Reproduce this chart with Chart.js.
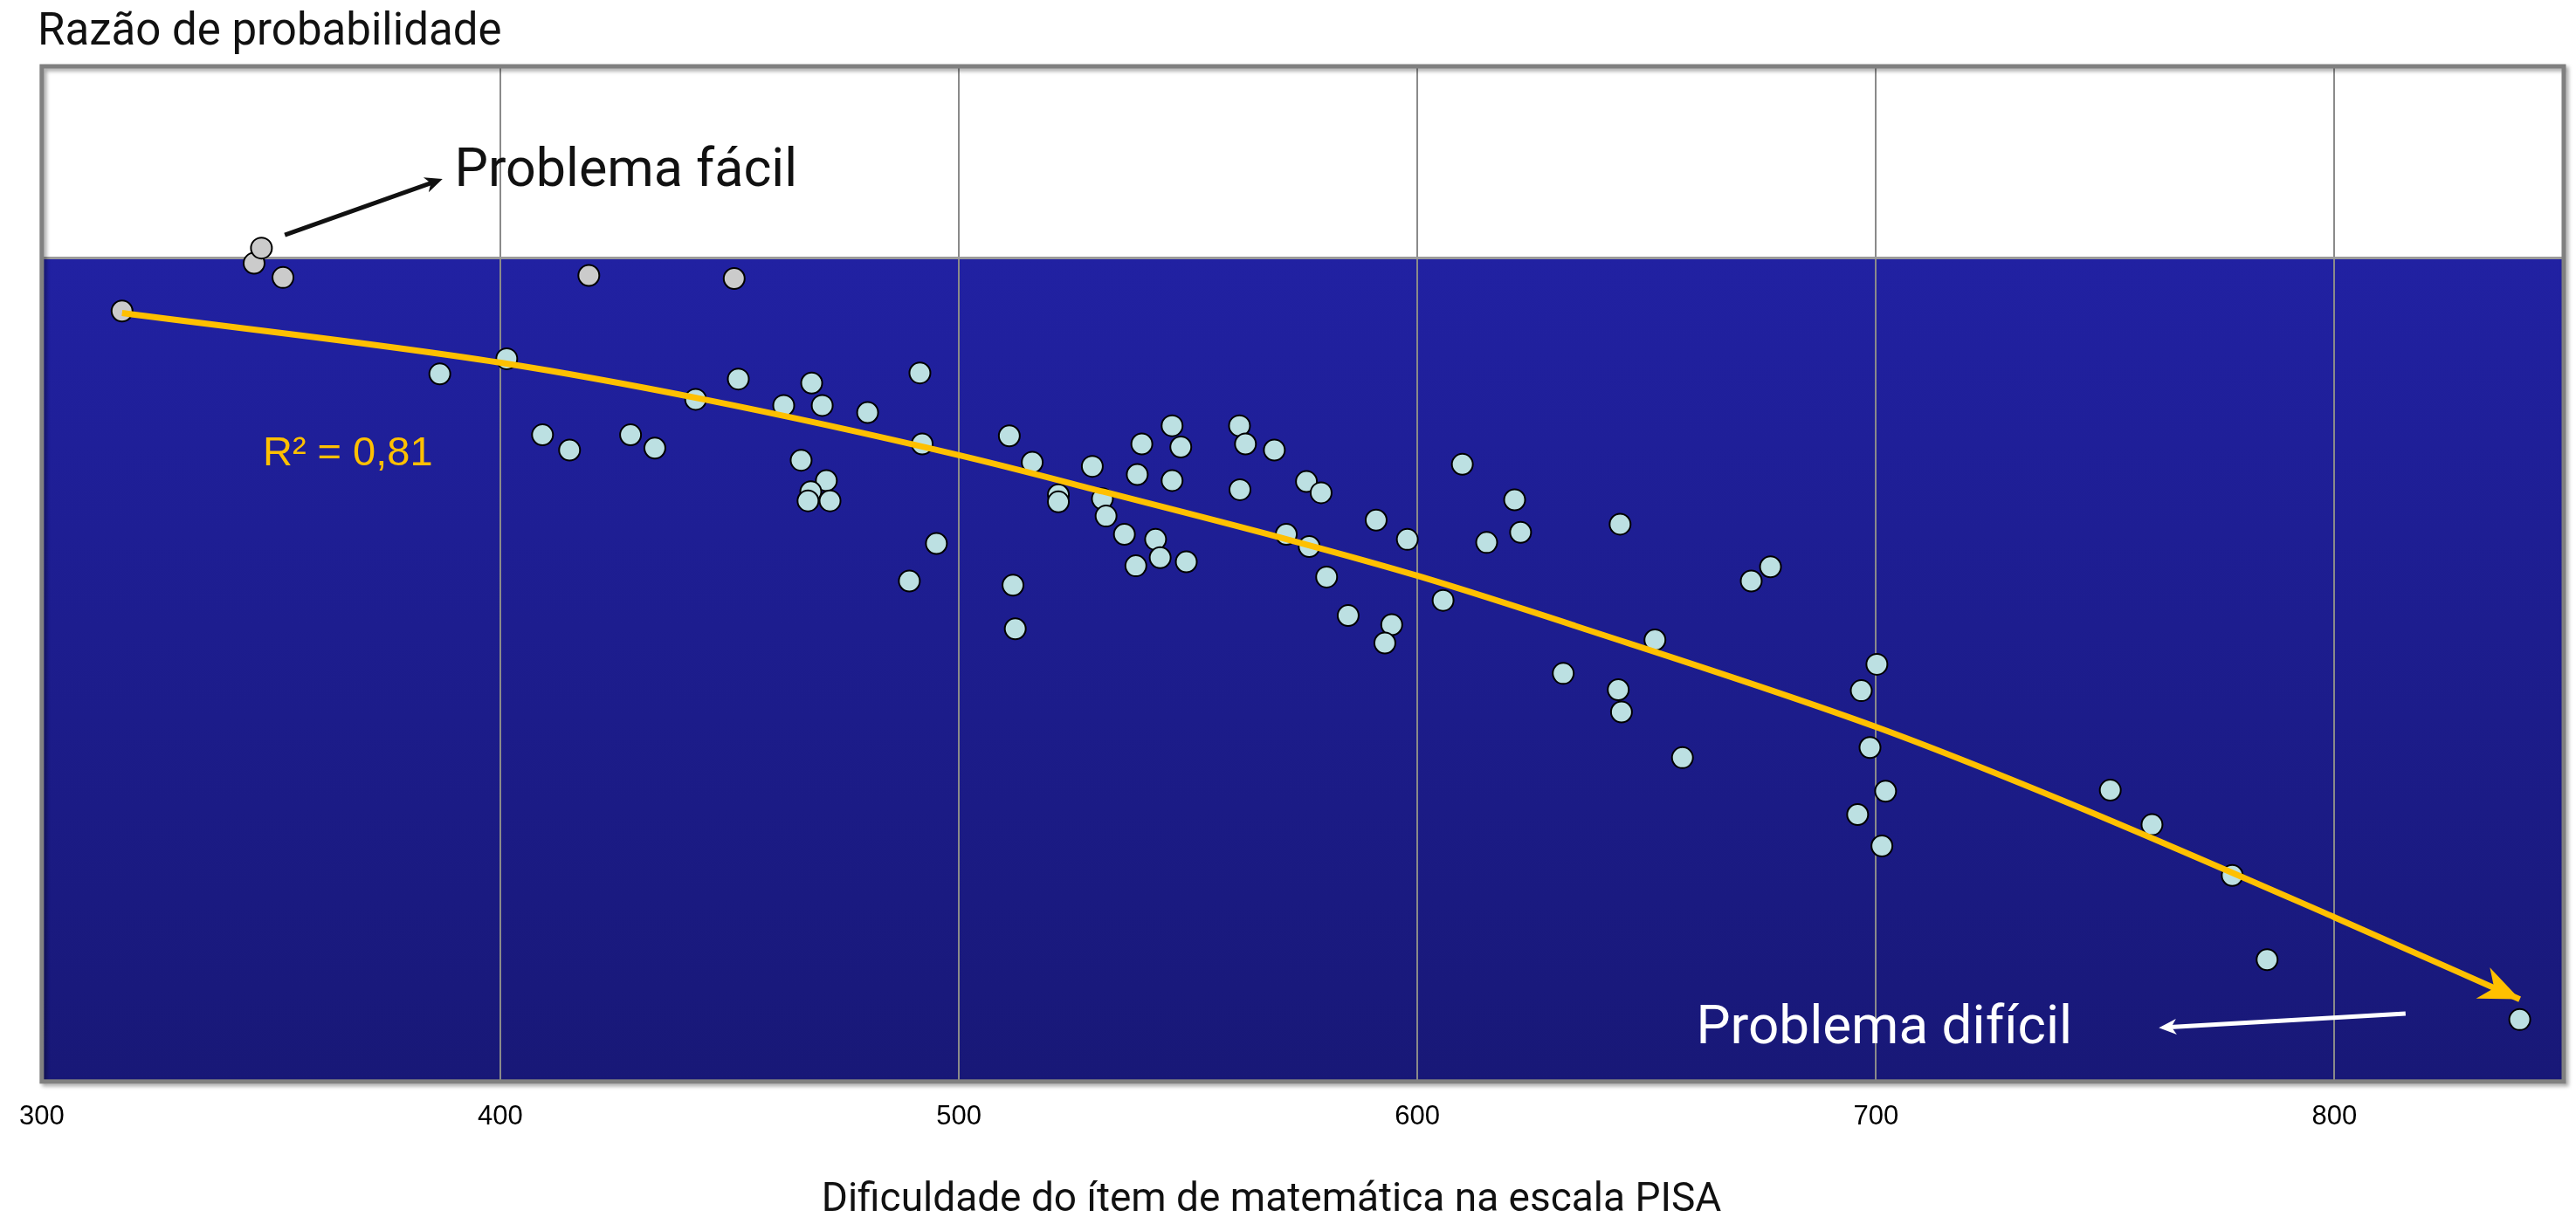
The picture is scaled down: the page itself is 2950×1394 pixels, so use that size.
<!DOCTYPE html>
<html>
<head>
<meta charset="utf-8">
<script src="https://cdn.jsdelivr.net/npm/chart.js@4.4.1/dist/chart.umd.min.js"></script>
<style>
  html, body { margin: 0; padding: 0; background: #fff; }
  #wrap { width: 2950px; height: 1394px; position: relative; }
</style>
</head>
<body>
<div id="wrap"><canvas id="myChart"></canvas></div>
<script>
const xTicks = [300, 400, 500, 600, 700, 800];

// itens "fáceis" (pontos cinza no topo)
const easyX = [317.5, 346.3, 347.9, 352.6, 419.3, 451.0];
const easyY = [75.9, 80.6, 82.1, 79.2, 79.4, 79.1];

// demais itens de matemática
const itemX = [401.4, 386.8, 409.2, 415.1, 428.4, 433.7, 442.6, 451.9, 467.9, 461.8,
  470.2, 480.1, 465.6, 471.1, 467.7, 467.1, 471.9, 491.5, 492.0, 495.1,
  489.2, 511.0, 516.0, 529.1, 521.7, 521.7, 531.3, 532.1, 538.9, 539.9,
  546.5, 548.4, 546.5, 536.1, 542.9, 543.9, 549.6, 538.6, 511.8, 512.3,
  561.2, 562.5, 568.8, 561.3, 575.8, 579.0, 571.4, 576.4, 580.2, 591.0,
  597.8, 584.9, 594.4, 592.9, 605.6, 609.8, 621.2, 622.5, 615.1, 631.8,
  644.2, 677.0, 672.8, 651.8, 643.8, 644.5, 700.2, 696.8, 657.8, 698.7,
  702.1, 696.0, 701.3, 751.1, 760.2, 777.7, 785.3, 840.4];
const itemY = [71.2, 69.7, 63.7, 62.2, 63.7, 62.4, 67.2, 69.2, 68.8, 66.6,
  66.6, 65.9, 61.2, 59.2, 58.1, 57.2, 57.2, 69.8, 62.8, 53.0,
  49.3, 63.6, 61.0, 60.6, 57.8, 57.1, 57.4, 55.7, 59.8, 62.8,
  64.6, 62.5, 59.2, 53.9, 53.4, 51.6, 51.2, 50.8, 48.9, 44.6,
  64.6, 62.8, 62.2, 58.3, 59.1, 58.0, 53.9, 52.7, 49.7, 55.3,
  53.4, 45.9, 45.0, 43.2, 47.4, 60.8, 57.3, 54.1, 53.1, 40.2,
  54.9, 50.7, 49.3, 43.5, 38.6, 36.4, 41.1, 38.5, 31.9, 32.9,
  28.6, 26.3, 23.2, 28.7, 25.3, 20.3, 12.0, 6.1];

// linha de tendência
const trendX = [317.5, 400.1, 444.3, 500.0, 531.5, 571.6, 600.1, 634.3, 700.2, 740.6, 799.9, 840.4];
const trendY = [75.7, 70.8, 67.2, 61.7, 58.1, 53.4, 49.8, 44.9, 34.9, 27.7, 16.2, 8.1];

const bandTop = 81; // onde começa o fundo azul

const toPts = (xs, ys) => xs.map((x, i) => ({ x: x, y: ys[i] }));

function arrow(ctx, x1, y1, x2, y2, color, width, head) {
  const ang = Math.atan2(y2 - y1, x2 - x1);
  ctx.save();
  ctx.strokeStyle = color;
  ctx.fillStyle = color;
  ctx.lineWidth = width;
  ctx.beginPath();
  ctx.moveTo(x1, y1);
  ctx.lineTo(x2 - Math.cos(ang) * head * 0.6, y2 - Math.sin(ang) * head * 0.6);
  ctx.stroke();
  ctx.beginPath();
  ctx.moveTo(x2, y2);
  ctx.lineTo(x2 - head * Math.cos(ang - 0.42), y2 - head * Math.sin(ang - 0.42));
  ctx.lineTo(x2 - head * 0.65 * Math.cos(ang), y2 - head * 0.65 * Math.sin(ang));
  ctx.lineTo(x2 - head * Math.cos(ang + 0.42), y2 - head * Math.sin(ang + 0.42));
  ctx.closePath();
  ctx.fill();
  ctx.restore();
}

const backdrop = {
  id: 'backdrop',
  beforeDraw(chart) {
    const { ctx, chartArea: a, scales: { y } } = chart;
    ctx.save();
    ctx.fillStyle = '#fff';
    ctx.fillRect(a.left, a.top, a.width, a.height);
    const yb = y.getPixelForValue(bandTop);
    const g = ctx.createLinearGradient(0, yb, 0, a.bottom);
    g.addColorStop(0, '#2121a2');
    g.addColorStop(1, '#181877');
    ctx.fillStyle = g;
    ctx.fillRect(a.left, yb, a.width, a.bottom - yb);
    ctx.restore();
  },
  beforeDatasetsDraw(chart) {
    const { ctx, chartArea: a, scales: { y } } = chart;
    const yb = y.getPixelForValue(bandTop);
    ctx.save();
    ctx.strokeStyle = '#9a9a9a';
    ctx.lineWidth = 3;
    ctx.beginPath();
    ctx.moveTo(a.left, yb - 1.5);
    ctx.lineTo(a.right, yb - 1.5);
    ctx.stroke();
    ctx.restore();
  },
  afterDraw(chart) {
    const { ctx, chartArea: a, scales: { x, y } } = chart;
    ctx.save();
    // moldura com sombra
    ctx.shadowColor = 'rgba(0,0,0,0.35)';
    ctx.shadowOffsetX = 3;
    ctx.shadowOffsetY = 3;
    ctx.shadowBlur = 4;
    ctx.strokeStyle = '#808080';
    ctx.lineWidth = 5;
    ctx.strokeRect(a.left, a.top, a.width, a.height);
    ctx.restore();

    // ponta da linha de tendência
    const n = trendX.length;
    const px2 = x.getPixelForValue(trendX[n - 1]), py2 = y.getPixelForValue(trendY[n - 1]);
    const px1 = x.getPixelForValue(trendX[n - 2]), py1 = y.getPixelForValue(trendY[n - 2]);
    const ang = Math.atan2(py2 - py1, px2 - px1);
    ctx.save();
    ctx.fillStyle = '#FFC000';
    ctx.beginPath();
    ctx.moveTo(px2, py2);
    ctx.lineTo(px2 - 50 * Math.cos(ang - 0.4), py2 - 50 * Math.sin(ang - 0.4));
    ctx.lineTo(px2 - 32 * Math.cos(ang), py2 - 32 * Math.sin(ang));
    ctx.lineTo(px2 - 50 * Math.cos(ang + 0.4), py2 - 50 * Math.sin(ang + 0.4));
    ctx.closePath();
    ctx.fill();
    ctx.restore();

    // setas das anotações
    arrow(ctx, x.getPixelForValue(353.0), y.getPixelForValue(83.4),
      x.getPixelForValue(387.4), y.getPixelForValue(88.9), '#111', 5, 22);
    arrow(ctx, x.getPixelForValue(815.5), y.getPixelForValue(6.7),
      x.getPixelForValue(761.7), y.getPixelForValue(5.3), '#fff', 5, 22);

    ctx.save();
    ctx.textBaseline = 'alphabetic';
    ctx.textAlign = 'left';
    ctx.fillStyle = '#111';
    ctx.font = '51px Roboto';
    ctx.fillText('Razão de probabilidade', 43, 51);
    ctx.font = '61px Roboto';
    ctx.fillText('Problema fácil', x.getPixelForValue(390.0), y.getPixelForValue(88.2));
    ctx.fillStyle = '#fff';
    ctx.font = '62px Roboto';
    ctx.fillText('Problema difícil', x.getPixelForValue(660.8), y.getPixelForValue(3.8));
    ctx.fillStyle = '#FFC000';
    ctx.font = '47px "Liberation Sans"';
    ctx.fillText('R² = 0,81', x.getPixelForValue(348.2), y.getPixelForValue(60.7));
    ctx.fillStyle = '#111';
    ctx.textAlign = 'center';
    ctx.font = '46px Roboto';
    ctx.fillText('Dificuldade do ítem de matemática na escala PISA', 1456, 1387);
    ctx.restore();
  }
};

const ctx = document.getElementById('myChart');
const myChart = new Chart(ctx, {
  type: 'scatter',
  data: {
    datasets: [{
      type: 'line',
      label: 'Tendência',
      data: toPts(trendX, trendY),
      borderColor: '#FFC000',
      borderWidth: 7,
      pointRadius: 0,
      cubicInterpolationMode: 'monotone',
      fill: false,
      order: 0
    }, {
      label: 'Itens',
      data: toPts(itemX, itemY),
      backgroundColor: '#bce0e2',
      borderColor: '#000',
      borderWidth: 2,
      pointRadius: 12,
      order: 1
    }, {
      label: 'Itens fáceis',
      data: toPts(easyX, easyY),
      backgroundColor: '#cbcbcb',
      borderColor: '#000',
      borderWidth: 2,
      pointRadius: 12,
      order: 2
    }]
  },
  options: {
    responsive: true,
    maintainAspectRatio: false,
    animation: false,
    layout: {
      padding: { left: 41, right: 14, top: 76, bottom: 74 }
    },
    scales: {
      x: {
        type: 'linear',
        min: 300,
        max: 850,
        afterBuildTicks: (s) => { s.ticks = xTicks.map(v => ({ value: v })); },
        grid: { color: '#8a8a8a', lineWidth: 2, drawTicks: false },
        border: { display: false },
        ticks: {
          color: '#000',
          padding: 22,
          font: { family: 'Liberation Sans', size: 31, lineHeight: 1.2 }
        }
      },
      y: {
        display: false,
        min: 0,
        max: 100
      }
    },
    plugins: {
      legend: { display: false },
      tooltip: { enabled: false },
      title: { display: false }
    }
  },
  plugins: [backdrop]
});
</script>
</body>
</html>
